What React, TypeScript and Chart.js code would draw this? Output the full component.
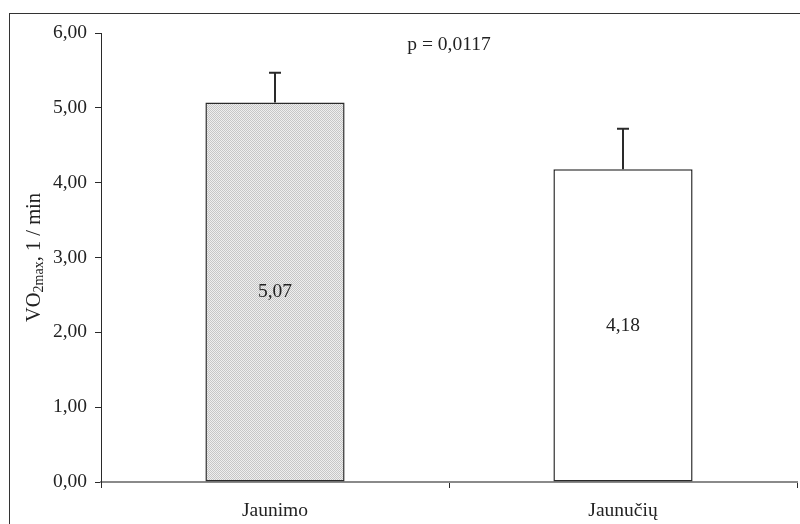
import React, { useEffect, useRef } from "react";
import { Chart, registerables } from "chart.js";

Chart.register(...registerables);

const categories = ["Jaunimo", "Jaunučių"];
const means = [5.07, 4.18];
const errorsUp = [0.4, 0.54];
const valueLabels = ["5,07", "4,18"];
const pValueText = "p = 0,0117";
const yMin = 0;
const yMax = 6;
const yStep = 1;

const FONT = "'Liberation Serif', 'Times New Roman', serif";
const FS = 19.5;

function makePattern(): CanvasPattern | string {
  const c = document.createElement("canvas");
  c.width = 2;
  c.height = 2;
  const g = c.getContext("2d");
  if (!g) return "#d8d8d8";
  g.fillStyle = "#eeeeee";
  g.fillRect(0, 0, 2, 2);
  g.fillStyle = "#c6c6c6";
  g.fillRect(0, 0, 1, 1);
  g.fillRect(1, 1, 1, 1);
  const p = g.createPattern(c, "repeat");
  return p || "#d8d8d8";
}

const overlayPlugin = {
  id: "overlay",
  afterDatasetsDraw(chart: any) {
    const ctx = chart.ctx as CanvasRenderingContext2D;
    const y = chart.scales.y;
    const meta = chart.getDatasetMeta(0);
    ctx.save();
    // error bars
    ctx.strokeStyle = "#2a2a2a";
    ctx.lineWidth = 2;
    meta.data.forEach((bar: any, i: number) => {
      const x = Math.round(bar.x);
      const yTop = y.getPixelForValue(means[i]);
      const yErr = y.getPixelForValue(means[i] + errorsUp[i]);
      ctx.beginPath();
      ctx.moveTo(x, yTop);
      ctx.lineTo(x, yErr);
      ctx.moveTo(x - 6, yErr);
      ctx.lineTo(x + 6, yErr);
      ctx.stroke();
    });
    // value labels
    ctx.fillStyle = "#222";
    ctx.font = `${FS}px ${FONT}`;
    ctx.textAlign = "center";
    ctx.textBaseline = "middle";
    meta.data.forEach((bar: any, i: number) => {
      const yTop = y.getPixelForValue(means[i]);
      const yBase = y.getPixelForValue(0);
      ctx.fillText(valueLabels[i], bar.x, (yTop + yBase) / 2);
    });
    // p-value
    const area = chart.chartArea;
    ctx.fillText(pValueText, (area.left + area.right) / 2, 45);
    // y axis title with subscript
    ctx.translate(33, (area.top + area.bottom) / 2);
    ctx.rotate(-Math.PI / 2);
    ctx.textAlign = "left";
    ctx.textBaseline = "alphabetic";
    const big = `20.5px ${FONT}`;
    const small = `14px ${FONT}`;
    ctx.font = big;
    const w1 = ctx.measureText("VO").width;
    const w3 = ctx.measureText(", 1 / min").width;
    ctx.font = small;
    const w2 = ctx.measureText("2max").width;
    let xx = -(w1 + w2 + w3) / 2;
    const base = 7;
    ctx.font = big;
    ctx.fillText("VO", xx, base);
    xx += w1;
    ctx.font = small;
    ctx.fillText("2max", xx, base + 3);
    xx += w2;
    ctx.font = big;
    ctx.fillText(", 1 / min", xx, base);
    ctx.restore();
  },
};

export default function App() {
  const ref = useRef<HTMLCanvasElement | null>(null);
  useEffect(() => {
    if (!ref.current) return;
    const pattern = makePattern();
    const chart = new Chart(ref.current, {
      type: "bar",
      data: {
        labels: categories,
        datasets: [
          {
            data: means,
            backgroundColor: [pattern as any, "#ffffff"],
            borderColor: "#2a2a2a",
            borderWidth: 1.5,
            borderSkipped: false,
            barPercentage: 0.4,
            categoryPercentage: 1,
          },
        ],
      },
      options: {
        responsive: false,
        animation: false,
        devicePixelRatio: 1,
        layout: { padding: { left: 0, top: 33, right: 3, bottom: 0 } },
        plugins: {
          legend: { display: false },
          tooltip: { enabled: false },
          title: { display: false },
        },
        scales: {
          x: {
            offset: true,
            grid: {
              display: true,
              offset: true,
              drawOnChartArea: false,
              drawTicks: true,
              tickLength: 6,
              color: "#2a2a2a",
            },
            border: { display: true, color: "#8a8a8a", width: 2 },
            ticks: {
              color: "#222",
              font: { family: FONT, size: FS },
              padding: 11,
            },
            afterFit(scale: any) {
              scale.height = 42;
            },
          },
          y: {
            min: yMin,
            max: yMax,
            grid: {
              display: true,
              drawOnChartArea: false,
              drawTicks: true,
              tickLength: 6,
              color: "#2a2a2a",
            },
            border: { display: true, color: "#2a2a2a", width: 1 },
            ticks: {
              stepSize: yStep,
              color: "#222",
              font: { family: FONT, size: FS },
              padding: 8,
              callback: (v: any) => Number(v).toFixed(2).replace(".", ","),
            },
            afterFit(scale: any) {
              scale.width = 101;
            },
          },
        },
      },
      plugins: [overlayPlugin],
    });
    return () => chart.destroy();
  }, []);
  return (
    <div style={{ position: "absolute", left: 0, top: 0, width: 800, height: 524, background: "#fff", overflow: "hidden" }}>
      <div
        style={{
          position: "absolute",
          left: 9,
          top: 13,
          width: 800,
          height: 520,
          borderLeft: "1px solid #333",
          borderTop: "1px solid #333",
          pointerEvents: "none",
        }}
      />
      <canvas ref={ref} width={800} height={524} style={{ position: "absolute", left: 0, top: 0, width: 800, height: 524 }} />
    </div>
  );
}
